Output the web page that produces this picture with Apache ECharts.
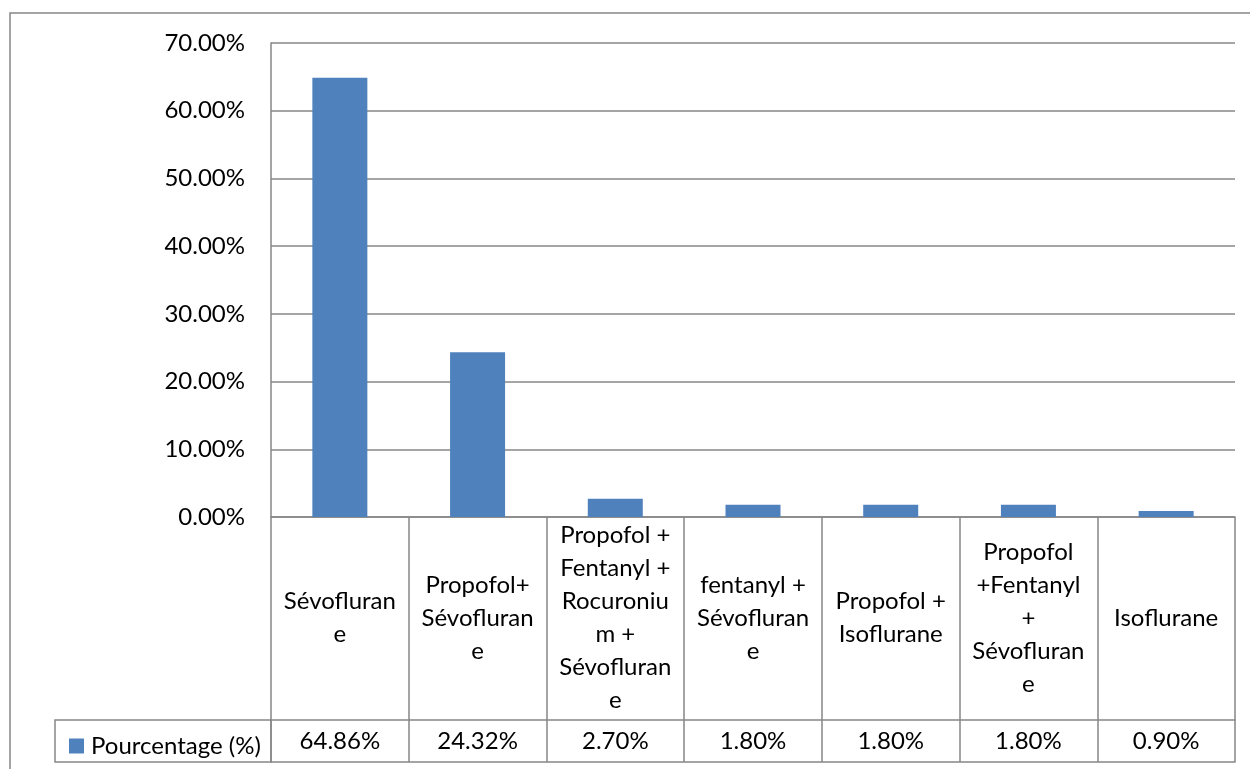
<!DOCTYPE html>
<html>
<head>
<meta charset="utf-8">
<script src="https://cdn.jsdelivr.net/npm/echarts@6/dist/echarts.min.js"></script>
<style>
html,body{margin:0;padding:0;background:#fff;}
#main{width:1250px;height:769px;}
</style>
</head>
<body>
<div id="main"></div>
<script>
var categories = [
  "Sévofluranne",
  "Propofol+ Sévofluranne",
  "Propofol + Fentanyl + Rocuronium + Sévofluranne",
  "fentanyl + Sévofluranne",
  "Propofol + Isoflurane",
  "Propofol +Fentanyl + Sévofluranne",
  "Isoflurane"
];
var categoryLabels = [
  "Sévofluran\ne",
  "Propofol+\nSévofluran\ne",
  "Propofol +\nFentanyl +\nRocuroniu\nm +\nSévofluran\ne",
  "fentanyl +\nSévofluran\ne",
  "Propofol +\nIsoflurane",
  "Propofol\n+Fentanyl\n+\nSévofluran\ne",
  "Isoflurane"
];
var seriesName = "Pourcentage (%)";
var values = [64.86, 24.32, 2.70, 1.80, 1.80, 1.80, 0.90];
var yTicks = [0, 10, 20, 30, 40, 50, 60, 70];

var FONT = "Lato";
var FS = 24;
var GRID_COL = "#878787";

var chart = echarts.init(document.getElementById('main'), null, {renderer: 'canvas'});

var valueLabels = values.map(function (v) { return v.toFixed(2) + '%'; });

var option = {
  animation: false,
  backgroundColor: '#ffffff',
  textStyle: {fontFamily: FONT},
  grid: {left: 271, right: 15, top: 43, bottom: 252, containLabel: false},
  legend: {
    left: 64, top: 729,
    itemWidth: 15, itemHeight: 15, itemGap: 10,
    icon: 'rect',
    data: [seriesName],
    textStyle: {fontFamily: FONT, fontSize: FS, color: '#000', lineHeight: 24, padding: [0, 0, 0, 2]}
  },
  xAxis: [
    {
      type: 'category',
      data: categoryLabels,
      position: 'bottom',
      axisLine: {show: true, lineStyle: {color: GRID_COL, width: 1.5}},
      axisTick: {show: true, interval: 0, length: 245, lineStyle: {color: GRID_COL, width: 1.5}},
      axisLabel: {
        interval: 0, margin: 101, verticalAlign: 'middle',
        fontFamily: FONT, fontSize: FS, color: '#000', lineHeight: 33, align: 'center'
      },
      splitLine: {show: false}
    },
    {
      type: 'category',
      data: valueLabels,
      position: 'bottom',
      offset: 203,
      axisLine: {show: true, lineStyle: {color: GRID_COL, width: 1.5}},
      axisTick: {show: false},
      axisLabel: {
        interval: 0, margin: 21, verticalAlign: 'middle',
        fontFamily: FONT, fontSize: FS, color: '#000'
      },
      splitLine: {show: false}
    },
    {
      type: 'category',
      data: valueLabels,
      position: 'bottom',
      offset: 245,
      axisLine: {show: true, lineStyle: {color: GRID_COL, width: 1.5}},
      axisTick: {show: false},
      axisLabel: {show: false},
      splitLine: {show: false}
    }
  ],
  yAxis: {
    type: 'value',
    min: yTicks[0], max: yTicks[yTicks.length - 1], interval: 10,
    axisLine: {show: true, lineStyle: {color: GRID_COL, width: 1.5}},
    axisTick: {show: false},
    axisLabel: {
      margin: 26, fontFamily: FONT, fontSize: FS, color: '#000',
      formatter: function (v) { return v.toFixed(2) + '%'; }
    },
    splitLine: {show: true, lineStyle: {color: GRID_COL, width: 1.5}}
  },
  series: [{
    name: seriesName,
    type: 'bar',
    xAxisIndex: 0,
    data: values,
    barWidth: 55,
    itemStyle: {color: '#4F81BD'}
  }],
  graphic: [
    {
      type: 'rect',
      silent: true,
      shape: {x: 10, y: 13, width: 1260, height: 780},
      style: {fill: 'none', stroke: GRID_COL, lineWidth: 1.5}
    },
    {
      type: 'rect',
      silent: true,
      z: -1,
      shape: {x: 55, y: 720, width: 216, height: 42},
      style: {fill: 'none', stroke: GRID_COL, lineWidth: 1.5}
    }
  ]
};
chart.setOption(option);
</script>
</body>
</html>
